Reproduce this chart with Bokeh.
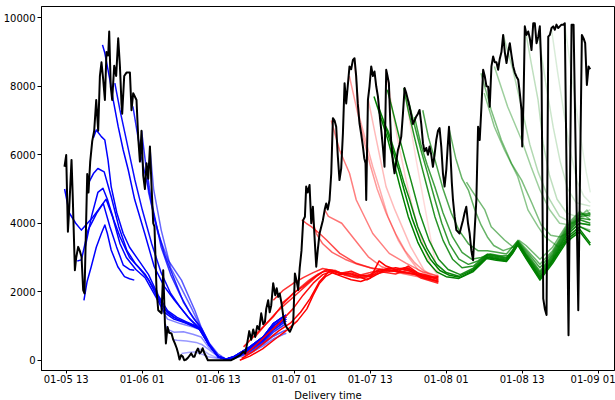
import pandas as pd
from bokeh.plotting import figure
from bokeh.models import ColumnDataSource, FixedTicker, DatetimeTickFormatter, Range1d, Title
from bokeh.embed import file_html
from bokeh.resources import INLINE

# ---------------- data ----------------
START = "2024-01-05 12:00"          # hour offsets below are counted from here
X_LABEL = "Delivery time"
TICK_TIMES = ["2024-01-05 13:00", "2024-01-06 01:00", "2024-01-06 13:00", "2024-01-07 01:00",
              "2024-01-07 13:00", "2024-01-08 01:00", "2024-01-08 13:00", "2024-01-09 01:00"]
Y_TICKS = [0, 2000, 4000, 6000, 8000, 10000]

# actual (black)
actual_h = [0.73, 1.00, 1.27, 1.47, 1.84, 2.03, 2.37, 2.58, 2.89, 3.13,
            3.42, 3.68, 3.89, 4.08, 4.32, 4.52, 4.79, 5.11, 5.42, 5.74,
            6.05, 6.32, 6.57, 6.84, 7.11, 7.36, 7.63, 7.79, 8.03, 8.26,
            8.58, 8.89, 9.21, 9.48, 9.73, 9.84, 10.16, 10.52, 11.06, 11.31,
            11.58, 12.10, 12.37, 12.64, 12.89, 13.16, 13.43, 13.68, 13.95, 14.22,
            14.47, 14.74, 14.94, 15.26, 15.53, 16.05, 16.32, 16.59, 16.74, 17.00,
            17.26, 17.63, 17.90, 18.16, 18.45, 18.68, 18.89, 19.16, 19.43, 19.63,
            19.95, 20.26, 20.74, 21.05, 21.26, 21.53, 21.80, 22.08, 22.32, 22.55,
            22.84, 23.11, 23.37, 27.05, 27.53, 28.00, 28.47, 28.95, 29.26, 29.58,
            29.90, 30.21, 30.53, 30.84, 31.16, 31.47, 31.79, 32.11, 32.38, 32.58,
            32.89, 33.13, 33.37, 33.68, 34.00, 34.24, 34.47, 34.71, 35.00, 35.26,
            35.53, 35.82, 36.05, 36.32, 36.61, 36.84, 37.11, 37.40, 37.63, 37.87,
            38.15, 38.42, 38.69, 38.89, 39.13, 39.42, 39.69, 39.95, 40.24, 40.48,
            40.71, 41.00, 41.27, 41.53, 41.82, 42.05, 42.29, 42.58, 42.85, 43.11,
            43.37, 43.63, 43.87, 44.15, 44.42, 44.69, 44.95, 45.21, 45.45, 45.73,
            46.00, 46.27, 46.52, 46.79, 47.03, 47.31, 47.58, 47.85, 48.06, 48.26,
            48.37, 48.64, 48.89, 49.16, 49.43, 49.68, 49.95, 50.22, 50.47, 50.74,
            51.01, 51.26, 51.53, 51.73, 51.95, 52.16, 52.32, 52.58, 52.84, 53.11,
            53.38, 53.63, 53.90, 54.17, 54.43, 54.69, 54.96, 55.21, 55.48, 55.74,
            56.00, 56.27, 56.54, 56.79, 57.06, 57.33, 57.58, 57.85, 58.12, 58.37,
            58.64, 58.90, 59.16, 59.43, 59.70, 59.95, 60.22, 60.48, 60.74, 61.01,
            61.22, 61.44, 61.69, 61.88, 62.07, 62.33, 62.60, 62.86, 63.11, 63.38,
            63.65, 63.90, 64.17, 64.44, 64.70, 64.97, 65.24, 65.49, 65.76, 66.03,
            66.29, 66.56, 66.83, 67.08, 67.35, 67.62, 67.87, 68.14, 68.41, 68.66,
            68.93, 69.20, 69.45, 69.72, 69.99, 70.25, 70.52, 70.79, 71.04, 71.31,
            71.58, 71.83, 72.10, 72.37, 72.62, 72.89, 73.00, 73.21, 73.41, 73.68,
            73.95, 74.20, 74.47, 74.74, 74.99, 75.26, 75.53, 75.78, 76.05, 76.32,
            76.57, 76.84, 77.11, 77.36, 77.63, 77.90, 78.15, 78.41, 78.68, 78.93,
            79.20, 79.47, 79.72, 80.31, 80.79, 81.11, 81.85, 82.42, 82.69, 82.94,
            83.21, 83.48, 83.73]
actual_v = [5650, 5990, 3750, 4400, 5850, 4800, 2630, 3000, 3310, 3200,
            3020, 2050, 1950, 3500, 5440, 4900, 5800, 6400, 6700, 7600,
            6700, 8300, 8700, 8200, 7600, 9000, 8900, 9600, 8000, 7600,
            8600, 8300, 9400, 8600, 7500, 7200, 8300, 8400, 8400, 7300,
            7800, 7600, 6500, 5800, 6700, 5400, 5000, 5750, 5300, 6240,
            5100, 4000, 3900, 2050, 1460, 1370, 2630, 1070, 490, 970,
            800, 780, 600, 490, 350, 195, 20, 150, 100, 0,
            20, 80, 200, 100, 100, 250, 340, 200, 245, 350,
            195, 100, 0, 0, 50, 100, 150, 250, 200, 500,
            850, 600, 900, 680, 1000, 900, 1370, 1050, 1120, 1500,
            1750, 1400, 1600, 2250, 1900, 2100, 1850, 1950, 1660, 1300,
            1070, 950, 900, 830, 950, 1070, 2530, 2300, 2050, 2700,
            3200, 4090, 4190, 5070, 4900, 5120, 4000, 4480, 3500, 2730,
            3200, 3700, 3900, 4090, 4400, 4580, 4400, 4680, 5460, 7070,
            7000, 6820, 6000, 5260, 5600, 6630, 8090, 7500, 8000, 8580,
            8500, 8770, 8820, 8280, 7500, 6920, 6600, 6240, 5900, 5750,
            4680, 7600, 8000, 8580, 8300, 8430, 8000, 7700, 7200, 6730,
            6200, 5650, 8480, 8300, 8090, 7000, 6340, 5800, 5460, 5800,
            6140, 6300, 6530, 7200, 7950, 7800, 7600, 7400, 7160, 6900,
            7000, 7120, 7200, 7310, 6900, 6340, 6100, 6200, 6000, 6240,
            6000, 5650, 6000, 6430, 6700, 6780, 6240, 5460, 5070, 5560,
            6200, 6820, 5950, 5200, 4680, 4200, 3800, 3750, 3700, 3900,
            4090, 4300, 4480, 4000, 3700, 3200, 2920, 3800, 4680, 6820,
            6430, 7400, 8480, 8300, 8000, 7990, 7400, 8580, 8870, 8700,
            8700, 8480, 8800, 9000, 9500, 9000, 8680, 9000, 9260, 8900,
            8580, 8400, 8280, 8190, 7800, 7300, 6240, 7600, 9750, 9500,
            9600, 9400, 9060, 9840, 9840, 9260, 9450, 9750, 8380, 1800,
            1500, 1320, 9450, 9500, 9700, 9750, 9650, 9800, 9700, 9750,
            9800, 9800, 9840, 730, 9800, 9800, 1460, 9500, 9400, 9260,
            8040, 8580, 8500]

# forecasts issued on 01-05 / early 01-06 (blue)
blue_h = [
    [3.8, 4.3, 4.95, 5.75, 6.55, 7.1, 7.5, 8.1, 9.15, 10.2, 11.0, 11.75],
    [2.75, 3.4, 4.45, 5.8, 6.85, 7.9, 8.95, 10.0, 11.0, 11.75],
    [0.75, 1.5, 2.5, 3.4, 5.1, 6.5, 7.3, 8.3, 9.5, 10.5, 12.0, 13.5, 15.0, 16.5, 18.0, 20.0, 22.0, 23.5, 25.0, 26.2, 27.4, 30.0, 32.1, 33.7, 35.3, 35.75],
    [4.0, 5.0, 6.0, 6.8, 7.5, 8.5, 9.5, 11.0, 12.5, 14.0, 15.5, 17.0, 18.5, 20.0, 22.0, 23.5, 25.0, 26.2, 27.4, 30.0, 32.1, 33.7, 35.3, 35.75],
    [4.6, 5.3, 6.0, 7.0, 8.1, 9.3, 10.6, 12.0, 13.5, 15.0, 16.5, 18.0, 19.5, 21.0, 22.3, 23.6, 25.0, 26.2, 27.4, 30.0, 32.1, 33.7, 35.3, 35.75],
    [5.3, 5.75, 6.55, 7.1, 7.6, 8.1, 9.0, 10.0, 11.0, 12.5, 14.0, 15.5, 17.0, 18.5, 20.0, 21.5, 22.5, 23.7, 25.0, 26.2, 27.4, 30.0, 32.1, 33.7, 35.3, 35.75],
    [6.73, 7.1, 7.9, 8.42, 9.21, 10.0, 10.8, 11.8, 13.4, 14.9, 16.5, 18.1, 20.2, 21.8, 23.5, 25.0, 26.2, 27.4, 30.0, 32.1, 33.7, 35.3, 35.75],
    [8.68, 9.48, 10.27, 11.06, 11.85, 13.0, 14.5, 16.0, 17.5, 19.0, 20.5, 22.0, 23.5, 25.0, 26.2, 27.4, 30.0, 32.1, 33.7, 35.3, 35.75],
    [11.53, 12.84, 13.9, 15.0, 16.5, 18.0, 19.5, 21.0, 22.3, 23.6, 25.0, 26.2, 27.4, 30.0, 32.1, 33.7, 35.3, 35.75],
    [12.9, 13.5, 14.5, 16.0, 17.5, 19.0, 20.5, 22.0, 23.5, 25.0, 26.2, 27.4, 30.0, 32.1, 33.7, 35.3, 35.75],
    [13.68, 14.0, 15.5, 17.1, 19.2, 21.3, 22.3, 23.6, 24.9, 26.2, 27.4, 30.0, 32.1, 33.7, 35.3, 35.75],
    [14.2, 14.8, 16.0, 17.5, 19.2, 20.7, 22.0, 23.5, 25.0, 26.2, 27.4, 30.0, 32.1, 33.7, 35.3, 35.75],
    [15.3, 16.0, 16.6, 17.0, 19.0, 21.0, 22.3, 23.5, 25.0, 26.2, 27.4, 30.0, 32.1, 33.7, 35.3, 35.75],
    [16.6, 17.0, 18.0, 19.5, 21.0, 22.3, 23.5, 25.0, 26.2, 27.4, 30.0, 32.1, 33.7, 35.3, 35.75],
    [17.9, 18.5, 20.0, 21.5, 22.5, 23.6, 25.0, 26.2, 27.4, 30.0, 32.1, 33.7, 35.3, 35.75],
    [19.2, 20.5, 21.3, 22.5, 23.4, 25.0, 26.2, 27.4, 30.0, 32.1, 33.7, 35.3, 35.75],
    [21.8, 22.5, 23.5, 25.0, 26.2, 27.4, 30.0, 32.1, 33.7, 35.3, 35.75],
]
blue_v = [
    [1750, 2300, 2730, 3300, 3700, 3950, 3700, 3220, 2730, 2440, 2380, 2340],
    [2900, 2930, 3800, 4290, 4580, 3900, 3310, 2780, 2650, 2630],
    [5000, 4300, 4000, 3800, 4150, 4500, 4700, 4200, 3400, 3000, 2650, 2400, 1900, 1400, 1200, 1080, 920, 450, 110, 30, 100, 390, 680, 1070, 1270, 1316],
    [3300, 4200, 4900, 5020, 4700, 4100, 3600, 3000, 2700, 2350, 1800, 1380, 1200, 1100, 940, 460, 100, 30, 90, 360, 640, 1000, 1210, 1260],
    [5200, 5450, 5600, 5500, 4780, 3900, 3200, 2800, 2500, 2050, 1500, 1250, 1120, 1000, 880, 450, 100, 30, 100, 390, 680, 1070, 1270, 1316],
    [6500, 6725, 6530, 6430, 5850, 5070, 4300, 3700, 3300, 2900, 2500, 1900, 1450, 1250, 1120, 1000, 850, 420, 90, 30, 90, 360, 640, 1000, 1210, 1260],
    [9210, 8970, 8190, 7600, 6820, 6140, 5555, 4700, 3700, 2730, 2150, 1750, 1270, 970, 460, 110, 30, 80, 330, 600, 940, 1150, 1200],
    [8090, 7310, 6630, 5945, 5263, 4400, 3400, 2550, 1950, 1550, 1200, 950, 470, 110, 30, 100, 390, 680, 1070, 1270, 1316],
    [7410, 5945, 5068, 4100, 3100, 2400, 1700, 1250, 950, 470, 120, 30, 80, 330, 600, 940, 1150, 1200],
    [6700, 5800, 4600, 3300, 2500, 1900, 1400, 1000, 480, 110, 30, 70, 300, 560, 880, 1090, 1140],
    [5750, 4900, 3700, 2920, 2340, 1460, 970, 500, 195, 30, 70, 300, 560, 880, 1090, 1140],
    [6240, 5000, 3800, 2700, 2100, 1550, 1050, 500, 120, 30, 60, 270, 520, 820, 1020, 1070],
    [2050, 1500, 1320, 1200, 1070, 970, 880, 450, 120, 30, 60, 270, 520, 820, 1020, 1070],
    [1070, 900, 820, 830, 760, 680, 380, 110, 30, 50, 240, 470, 700, 850, 880],
    [600, 585, 560, 520, 450, 300, 100, 30, 50, 240, 470, 700, 850, 880],
    [195, 230, 243, 170, 100, 50, 20, 40, 200, 420, 620, 760, 790],
    [340, 300, 180, 60, 15, 40, 200, 420, 620, 760, 790],
]

# forecasts for 01-07 (red)
red_h = [
    [28.4, 30.0, 32.0, 34.0, 36.0, 37.5, 39.0, 40.0, 41.0, 42.0, 43.0, 44.5, 46.0, 47.5, 49.0, 50.4, 51.5, 53.0, 54.5, 56.0, 57.5, 59.0, 59.75],
    [28.7, 30.5, 32.5, 34.5, 36.5, 38.0, 39.5, 41.0, 42.5, 44.0, 45.5, 47.0, 48.5, 50.0, 51.5, 53.0, 54.5, 56.0, 57.5, 59.75],
    [29.2, 31.0, 33.0, 35.0, 36.8, 38.4, 40.0, 41.5, 43.0, 44.5, 46.0, 47.5, 49.0, 50.5, 52.0, 53.5, 55.0, 56.5, 58.0, 59.75],
    [29.0, 31.6, 33.7, 35.3, 36.8, 38.4, 40.0, 41.5, 43.0, 44.5, 46.0, 47.5, 49.0, 50.5, 52.0, 53.5, 55.0, 56.5, 58.0, 59.75],
    [30.8, 32.5, 34.2, 36.0, 37.5, 39.0, 40.5, 42.0, 43.5, 45.0, 47.0, 48.5, 50.0, 51.5, 53.0, 55.0, 57.0, 59.75],
    [33.7, 35.3, 36.8, 38.5, 40.0, 41.5, 43.0, 45.0, 47.0, 49.0, 51.0, 53.0, 55.0, 57.0, 59.75],
    [35.0, 36.3, 37.8, 39.3, 40.8, 42.3, 44.0, 46.0, 48.0, 50.0, 52.0, 54.0, 56.0, 58.0, 59.75],
    [38.2, 38.9, 39.7, 41.0, 42.1, 44.2, 46.8, 49.4, 53.0, 56.0, 59.75],
    [39.7, 40.5, 41.5, 43.0, 45.0, 47.0, 49.0, 51.0, 54.0, 57.0, 59.75],
    [41.8, 42.4, 44.5, 46.6, 48.7, 50.8, 53.9, 57.0, 59.75],
    [42.85, 44.15, 45.73, 46.8, 49.4, 52.0, 54.7, 57.3, 59.75],
    [45.7, 46.8, 47.9, 49.0, 50.1, 51.5, 53.0, 54.5, 56.0, 57.5, 59.75],
    [46.5, 47.3, 48.4, 49.4, 50.5, 51.8, 53.4, 55.0, 56.6, 58.0, 59.75],
    [48.7, 49.9, 51.5, 52.9, 55.4, 57.5, 59.1, 59.75],
    [51.5, 52.5, 53.5, 54.5, 55.5, 56.5, 57.5, 58.5, 59.75],
    [54.4, 55.3, 56.2, 57.1, 58.0, 58.9, 59.75],
]
red_v = [
    [0, 120, 330, 620, 900, 1150, 1500, 1900, 2250, 2450, 2550, 2450, 2350, 2300, 2400, 2900, 2750, 2650, 2700, 2600, 2450, 2400, 2450],
    [50, 250, 550, 850, 1100, 1400, 1800, 2300, 2600, 2500, 2550, 2450, 2350, 2500, 2650, 2700, 2650, 2550, 2400, 2300],
    [150, 450, 800, 1150, 1500, 1900, 2250, 2500, 2600, 2550, 2600, 2480, 2450, 2600, 2700, 2600, 2750, 2550, 2480, 2350],
    [390, 880, 1270, 1660, 1950, 2150, 2400, 2580, 2620, 2500, 2550, 2450, 2500, 2650, 2600, 2650, 2700, 2500, 2450, 2400],
    [680, 1050, 1400, 1700, 1950, 2200, 2450, 2650, 2620, 2480, 2400, 2450, 2600, 2560, 2520, 2650, 2400, 2250],
    [1750, 2050, 2240, 2420, 2560, 2680, 2620, 2520, 2470, 2560, 2660, 2600, 2560, 2450, 2320],
    [1660, 1850, 2100, 2330, 2520, 2640, 2560, 2460, 2400, 2520, 2620, 2560, 2520, 2420, 2280],
    [4100, 4000, 3900, 3700, 3510, 3120, 2830, 2680, 2600, 2500, 2420],
    [4200, 3700, 3400, 3150, 2950, 2800, 2700, 2650, 2600, 2500, 2380],
    [4400, 4200, 4000, 3510, 3020, 2730, 2540, 2420, 2300],
    [7000, 6140, 5460, 4680, 3700, 3120, 2830, 2580, 2450],
    [8300, 7400, 6500, 5700, 5000, 4300, 3700, 3200, 2850, 2600, 2450],
    [8800, 7100, 6340, 5650, 5000, 4190, 3510, 3020, 2630, 2500, 2400],
    [7600, 6500, 5070, 4390, 3310, 2630, 2400, 2350],
    [8480, 7300, 6300, 5400, 4600, 3900, 3300, 2800, 2450],
    [7950, 6900, 5900, 5000, 4100, 3200, 2500],
]

# forecasts for 01-08 (green)
green_h = [
    [49.6, 50.3, 51.8, 52.9, 53.7, 55.0, 56.5, 58.0, 59.5, 61.0, 63.0, 65.2, 67.4, 68.9, 70.5, 71.5, 72.3, 73.6, 75.8, 77.8, 80.0, 82.1, 83.75],
    [50.3, 51.0, 52.4, 53.5, 54.3, 55.6, 57.0, 58.5, 60.0, 61.5, 63.2, 65.2, 67.4, 69.0, 70.5, 71.5, 72.3, 73.6, 75.8, 77.8, 80.0, 82.1, 83.75],
    [51.0, 51.8, 53.2, 54.3, 55.2, 56.5, 58.0, 59.5, 61.0, 63.0, 65.2, 67.4, 69.0, 70.5, 71.5, 72.3, 73.6, 75.8, 77.8, 80.0, 82.1, 83.75],
    [51.7, 52.4, 53.6, 54.6, 55.5, 56.8, 58.3, 59.8, 61.3, 63.2, 65.2, 67.4, 69.0, 70.5, 71.5, 72.3, 73.6, 75.8, 77.8, 80.0, 82.1, 83.75],
    [54.3, 55.0, 56.0, 57.0, 58.2, 59.2, 60.5, 62.0, 63.5, 65.3, 67.4, 69.0, 70.5, 71.5, 72.3, 73.6, 75.8, 77.8, 80.0, 82.1, 83.75],
    [55.0, 55.8, 57.0, 58.0, 59.2, 60.3, 61.5, 63.0, 64.5, 66.0, 67.5, 69.0, 70.5, 71.5, 72.3, 73.6, 75.8, 77.8, 80.0, 82.1, 83.75],
    [56.0, 57.0, 58.0, 59.2, 60.5, 62.0, 63.5, 65.0, 66.5, 68.0, 69.5, 71.0, 72.3, 73.6, 75.8, 77.8, 80.0, 82.1, 83.75],
    [57.3, 58.2, 59.3, 60.5, 61.8, 63.0, 64.5, 66.0, 67.5, 69.0, 70.5, 72.3, 73.6, 75.8, 77.8, 80.0, 82.1, 83.75],
    [61.4, 62.5, 63.5, 64.5, 65.5, 66.5, 67.5, 68.5, 70.0, 71.5, 72.3, 73.6, 75.8, 77.8, 80.0, 82.1, 83.75],
    [64.2, 65.0, 67.1, 68.1, 70.2, 71.8, 72.5, 73.6, 75.8, 77.8, 80.0, 82.1, 83.75],
    [66.5, 68.1, 69.7, 71.3, 72.9, 74.5, 76.0, 77.5, 79.0, 80.5, 82.0, 83.75],
    [67.0, 68.6, 70.2, 72.3, 73.9, 75.5, 76.6, 78.7, 80.5, 82.1, 83.75],
    [68.6, 70.7, 72.9, 74.4, 75.8, 77.3, 78.9, 80.5, 82.0, 83.2, 83.75],
    [70.0, 71.5, 73.0, 74.2, 75.5, 77.0, 78.9, 81.0, 83.75],
    [73.4, 74.4, 75.5, 76.3, 77.3, 78.5, 80.0, 81.5, 83.75],
    [75.6, 76.8, 77.9, 79.0, 80.2, 81.5, 83.75],
    [77.6, 78.6, 79.6, 80.6, 81.7, 82.7, 83.75],
    [79.7, 80.6, 81.5, 82.4, 83.1, 83.75],
]
green_v = [
    [7700, 7310, 6430, 5650, 5070, 4200, 3450, 2900, 2580, 2440, 2390, 2580, 2970, 2920, 2880, 3120, 3360, 2970, 2340, 2830, 3460, 3750, 3360],
    [7400, 7050, 6250, 5550, 5000, 4150, 3450, 2950, 2620, 2480, 2420, 2610, 3000, 2950, 2900, 3140, 3380, 3000, 2380, 2880, 3520, 3820, 3420],
    [7000, 6700, 5900, 5200, 4700, 3900, 3250, 2800, 2560, 2450, 2640, 3020, 2970, 2920, 3160, 3400, 3030, 2420, 2920, 3580, 3900, 3750],
    [7900, 7400, 6500, 5800, 5200, 4300, 3500, 2950, 2650, 2500, 2680, 3050, 3000, 2950, 3180, 3420, 3050, 2450, 2950, 3650, 4000, 3950],
    [7950, 7300, 6500, 5750, 4900, 4200, 3500, 2950, 2700, 2750, 3080, 3030, 2980, 3200, 3430, 3080, 2500, 3000, 3700, 4100, 4000],
    [7600, 7000, 6140, 5500, 4700, 4000, 3400, 2950, 2800, 2900, 3100, 3050, 3000, 3220, 3450, 3100, 2550, 3050, 3750, 4150, 4100],
    [7100, 6300, 5700, 5068, 4300, 3600, 3150, 2950, 3000, 3100, 3050, 3050, 3450, 3150, 2600, 3100, 3800, 4200, 4250],
    [7300, 6500, 5800, 5000, 4300, 3800, 3400, 3200, 3200, 3150, 3100, 3480, 3200, 2700, 3150, 3850, 4250, 4300],
    [6800, 5900, 5300, 4970, 4400, 3950, 3600, 3350, 3200, 3300, 3500, 3250, 2800, 3200, 3900, 4300, 4200],
    [5200, 4970, 4390, 3900, 3510, 3270, 3500, 3350, 2950, 3300, 3950, 4350, 4100],
    [8380, 7310, 6430, 5750, 5260, 4600, 3950, 3650, 3600, 3750, 4000, 3950],
    [7800, 6820, 6140, 5360, 4390, 3900, 3600, 3310, 3500, 3900, 3800],
    [8580, 7400, 6430, 5650, 4970, 4400, 4000, 3950, 4150, 4390, 4240],
    [9500, 8500, 7300, 6300, 5500, 4800, 4200, 4000, 4300],
    [9750, 8700, 7600, 6340, 5400, 4700, 4300, 4200, 4400],
    [9450, 8000, 6800, 5800, 5000, 4600, 4500],
    [9700, 8400, 7200, 6100, 5200, 4800, 4600],
    [9840, 8600, 7400, 6300, 5500, 4900],
]

# ---------------- styles ----------------
BLUE_ALPHA = [1, 1, 1, 1, 1, 1, 1, 0.95, 0.85, 0.8, 0.65, 0.6, 0.5, 0.45, 0.4, 0.35, 0.3]
RED_ALPHA = [1, 1, 0.95, 0.9, 0.85, 0.8, 0.8, 0.7, 0.6, 0.55, 0.5, 0.4, 0.33, 0.27, 0.2, 0.15]
GREEN_ALPHA = [1, 1, 0.95, 0.9, 0.85, 0.8, 0.75, 0.7, 0.6, 0.55, 0.5, 0.45, 0.38, 0.3, 0.25, 0.2, 0.15, 0.12]
FONT = "DejaVu Sans"

HOUR = 3_600_000
t0 = pd.Timestamp(START, tz="UTC").value / 1e6


def to_ms(hours):
    return [t0 + h * HOUR for h in hours]


p = figure(width=615, height=400, x_axis_type="datetime", output_backend="svg",
           toolbar_location=None, min_border_left=37, min_border_right=1,
           min_border_top=6, min_border_bottom=0,
           x_range=Range1d(t0 - 2.9 * HOUR, t0 + 87.57 * HOUR),
           y_range=Range1d(-300, 10330))
p.xgrid.visible = False
p.ygrid.visible = False
p.outline_line_color = "black"
p.outline_line_width = 1
p.background_fill_color = "white"
p.border_fill_color = "white"

for hs, vs, alphas, col in [(blue_h, blue_v, BLUE_ALPHA, "blue"),
                            (red_h, red_v, RED_ALPHA, "red"),
                            (green_h, green_v, GREEN_ALPHA, "green")]:
    src = ColumnDataSource(dict(xs=[to_ms(h) for h in hs], ys=vs, a=alphas))
    p.multi_line("xs", "ys", source=src, line_color=col, line_alpha="a",
                 line_width=1.5, line_join="round")

p.line(to_ms(actual_h), actual_v, line_color="black", line_width=2, line_join="round")

tick_ms = [pd.Timestamp(t, tz="UTC").value / 1e6 for t in TICK_TIMES]
p.xaxis.ticker = FixedTicker(ticks=tick_ms)
fmt = "%m-%d %H"
p.xaxis.formatter = DatetimeTickFormatter(microseconds=fmt, milliseconds=fmt, seconds=fmt,
                                          minsec=fmt, minutes=fmt, hourmin=fmt, hours=fmt,
                                          days=fmt, months=fmt, years=fmt)
p.yaxis.ticker = FixedTicker(ticks=Y_TICKS)
for ax in (p.xaxis, p.yaxis):
    ax.major_label_text_font = FONT
    ax.major_label_text_font_size = "10px"
    ax.major_label_text_color = "black"
    ax.major_tick_in = 0
    ax.major_tick_out = 4
    ax.minor_tick_line_color = None
    ax.axis_line_color = "black"
    ax.major_tick_line_color = "black"
    ax.major_label_standoff = 2

p.xaxis.major_tick_out = 3
p.xaxis.major_label_standoff = 0

p.add_layout(Title(text=X_LABEL, align="center", text_font=FONT, text_font_size="10px",
                   text_font_style="normal", text_color="black", standoff=0,
                   text_line_height=1.0), "below")

open("out.html", "w").write(file_html(p, INLINE))
